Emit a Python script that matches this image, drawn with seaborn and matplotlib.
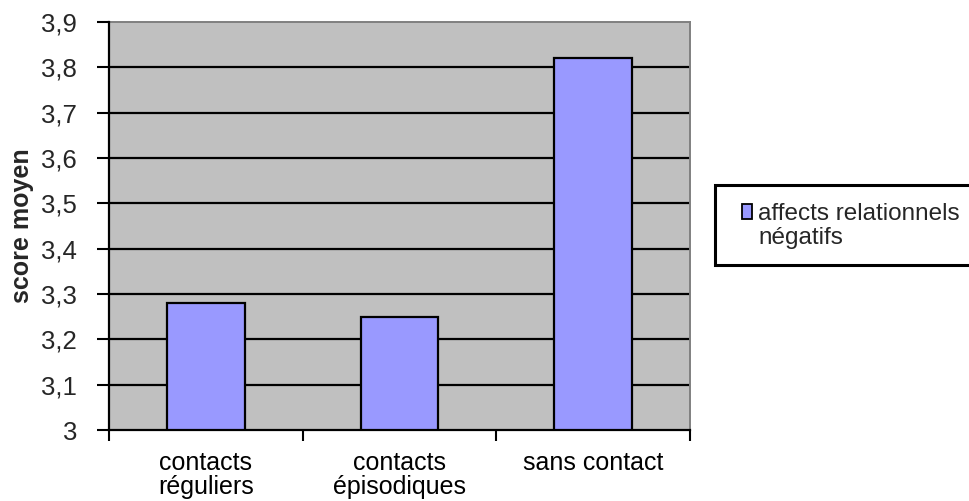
import matplotlib
matplotlib.use("Agg")
import matplotlib.pyplot as plt
from matplotlib.patches import Patch, Rectangle
from matplotlib.ticker import FixedLocator, FuncFormatter
import seaborn as sns
import pandas as pd

# Mean score per contact group
categories = ["contacts\nréguliers", "contacts\népisodiques", "sans contact"]
scores = [3.28, 3.25, 3.82]
series_lines = ["affects relationnels", "négatifs"]
y_ticks = [3.0, 3.1, 3.2, 3.3, 3.4, 3.5, 3.6, 3.7, 3.8, 3.9]

df = pd.DataFrame({"groupe": categories, "score": scores})

sns.set_theme(style="white")
plt.rcParams["font.family"] = ["Liberation Sans", "DejaVu Sans"]

W, H = 969, 501
fig = plt.figure(figsize=(W / 100, H / 100), dpi=100)
ax = fig.add_axes([109 / W, 1 - 430 / H, (690 - 109) / W, (430 - 22) / H])
ax.set_facecolor("#C0C0C0")

sns.barplot(data=df, x="groupe", y="score", color="#9999FF", width=0.4,
            edgecolor="black", linewidth=1.6, saturation=1, ax=ax, zorder=3)

ax.set_ylim(3.0, 3.9)
ax.set_xlim(-0.5, 2.5)

# horizontal grid lines
ax.yaxis.set_major_locator(FixedLocator(y_ticks))
ax.yaxis.set_major_formatter(FuncFormatter(lambda v, p: f"{v:g}".replace(".", ",")))
for v in y_ticks[1:-1]:
    ax.axhline(v, color="black", lw=1.6, zorder=1)

# category separators as ticks below the axis
ax.set_xticks([0, 1, 2])
ax.set_xticks([-0.5, 0.5, 1.5, 2.5], minor=True)
ax.tick_params(axis="x", which="major", length=0, pad=15, labelsize=18, colors="#000000")
ax.tick_params(axis="x", which="minor", length=8, width=1.5, color="black", direction="out", bottom=True)
ax.tick_params(axis="y", which="major", length=9, width=1.5, color="black", direction="out", left=True,
               labelsize=18.5, pad=14)
for lab in ax.get_xticklabels():
    lab.set_linespacing(1.0)

ax.set_xlabel("")
ax.set_ylabel("score moyen", fontsize=18, fontweight="bold", labelpad=5)

for side in ["left", "bottom"]:
    ax.spines[side].set_color("black")
    ax.spines[side].set_linewidth(1.6)
    ax.spines[side].set_zorder(4)
for side in ["top", "right"]:
    ax.spines[side].set_visible(True)
    ax.spines[side].set_color("#808080")
    ax.spines[side].set_linewidth(1.4)

# legend frame, running off the right edge of the figure
fig.patches.append(Rectangle((715 / W, 1 - 265 / H), 270 / W, 80 / H,
                             transform=fig.transFigure, facecolor="white",
                             edgecolor="black", linewidth=2.2, zorder=0))

# legend: swatch beside the first line, second line wraps under the text
swatch = Patch(facecolor="#9999FF", edgecolor="black", linewidth=1.3)
blank = Patch(facecolor="none", edgecolor="none")
leg = fig.legend([swatch, blank], series_lines, loc="upper left",
                 bbox_to_anchor=(742 / W, 1 - 203 / H), frameon=False,
                 fontsize=17.5, handlelength=0.42, handleheight=0.62, handletextpad=0.25,
                 labelspacing=0.08, borderpad=0, borderaxespad=0)
leg._legend_box.align = "left"

fig.savefig("out.png", dpi=100)
